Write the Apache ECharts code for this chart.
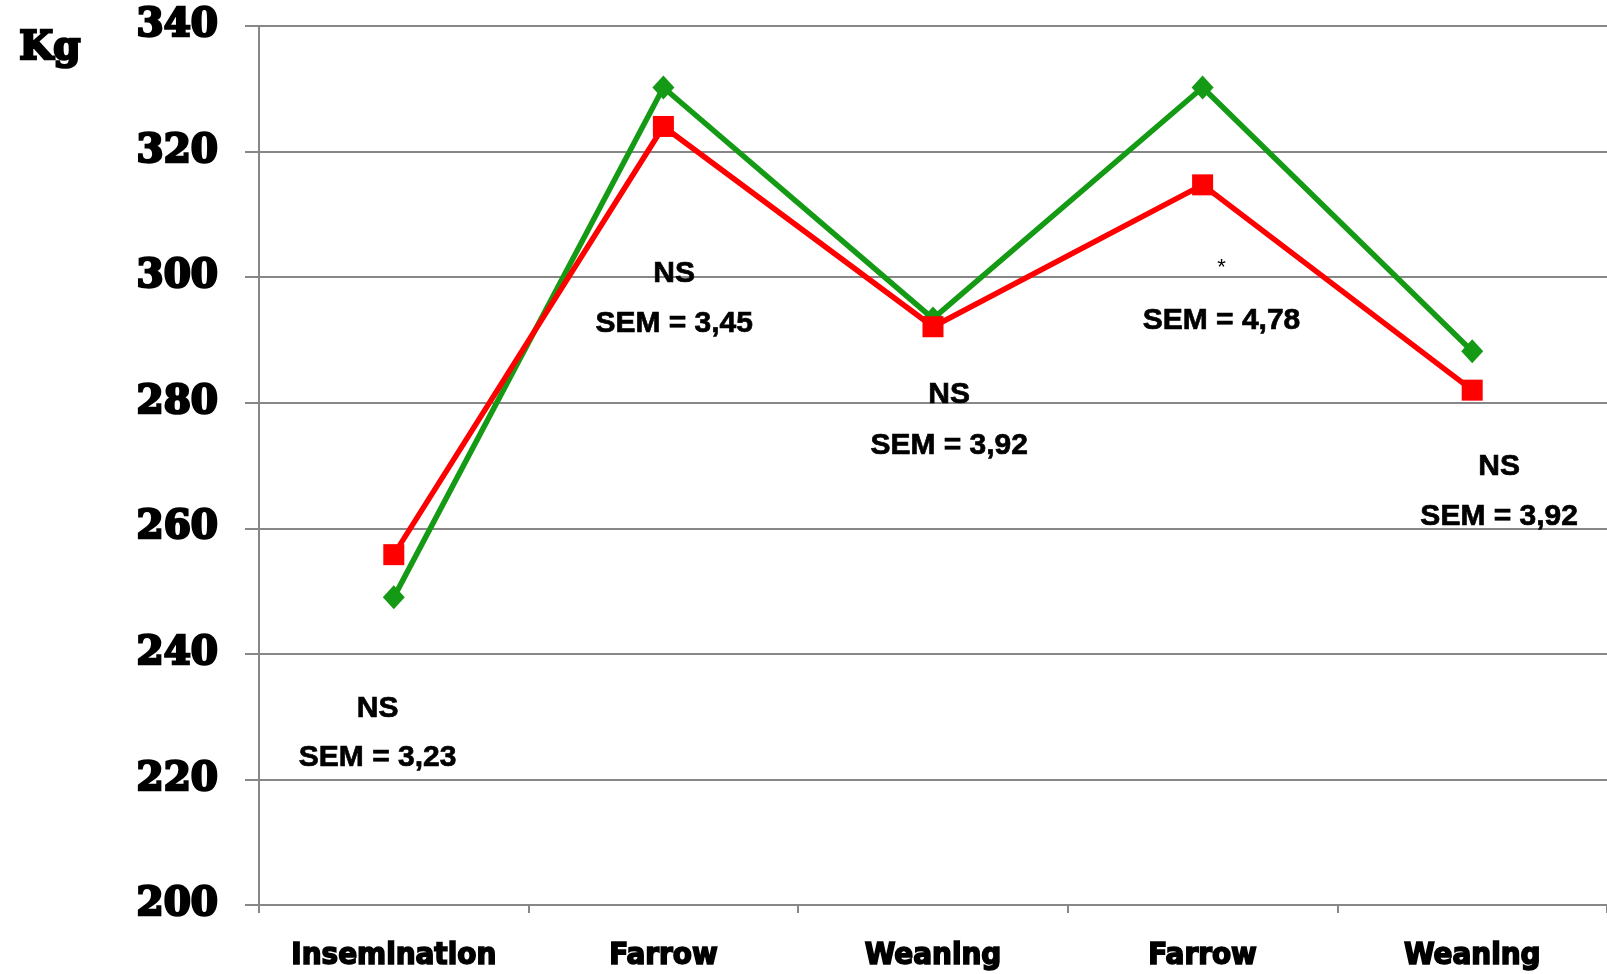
<!DOCTYPE html>
<html>
<head>
<meta charset="utf-8">
<title>Sow body weight</title>
<script src="https://cdn.jsdelivr.net/npm/echarts@6/dist/echarts.min.js"></script>
<style>
  html, body { margin: 0; padding: 0; background: #fff; }
  #chart { width: 1607px; height: 974px; }
</style>
</head>
<body>
<div id="chart"></div>
<script>
// Stages of the reproductive cycle
const categories = ['Insemination', 'Farrow', 'Weaning', 'Farrow', 'Weaning'];

// Body weight (kg) of the two groups
const greenValues = [249, 330.2, 293.4, 330.2, 288.2];
const redValues = [255.8, 324, 292.1, 314.7, 282];

// Y axis range
const yMin = 200;
const yMax = 340;
const yStep = 20;

// Statistical notes per stage: x position (category index units), kg level, text
const noteX = [-0.06, 1.04, 2.06, 3.07, 4.10];
const sigText = ['NS', 'NS', 'NS', '*', 'NS'];
const sigY = [231.3, 300.6, 281.2, 301.5, 269.8];
const semText = ['SEM = 3,23', 'SEM = 3,45', 'SEM = 3,92', 'SEM = 4,78', 'SEM = 3,92'];
const semY = [223.4, 292.6, 273.2, 293.1, 261.9];

const axisGray = '#878787';
const green = '#149a14';
const red = '#ff0000';

// One row per text note: [x, kg, text]
const noteRows = [];
noteX.forEach((x, i) => {
  noteRows.push([x, sigY[i], sigText[i]]);
  noteRows.push([x, semY[i], semText[i]]);
});

function renderNote(params, api) {
  const p = api.coord([api.value(0), api.value(1)]);
  const text = noteRows[params.dataIndex][2];
  const star = text === '*';
  return {
    type: 'text',
    x: p[0],
    y: p[1],
    style: {
      text: text,
      fill: '#000',
      stroke: star ? null : '#000',
      lineWidth: star ? 0 : 0.7,
      font: star ? 'normal 22px "Liberation Sans"' : 'bold 30px "Liberation Sans"',
      align: 'center',
      verticalAlign: 'middle'
    }
  };
}

const chart = echarts.init(document.getElementById('chart'), null, { renderer: 'canvas' });

chart.setOption({
  animation: false,
  backgroundColor: '#fff',
  grid: { left: 259, top: 26, width: 1360, height: 879, containLabel: false },
  graphic: [{
    type: 'text',
    left: 18,
    top: 28,
    style: {
      text: 'Kg',
      fill: '#000',
      font: 'bold 39px "DejaVu Serif"',
      stroke: '#000',
      lineWidth: 2.5
    }
  }],
  xAxis: [{
    type: 'category',
    data: categories,
    boundaryGap: true,
    axisLine: { show: true, lineStyle: { color: axisGray, width: 2 } },
    axisTick: { show: true, length: 8, lineStyle: { color: axisGray, width: 2 } },
    axisLabel: {
      margin: 35,
      color: '#000',
      fontFamily: 'DejaVu Sans Condensed',
      fontWeight: 'bold',
      fontSize: 31,
      textBorderColor: '#000',
      textBorderWidth: 1.6
    },
    splitLine: { show: false }
  }, {
    type: 'value',
    min: -0.5,
    max: 4.5,
    show: false
  }],
  yAxis: {
    type: 'value',
    min: yMin,
    max: yMax,
    interval: yStep,
    axisLine: { show: true, onZero: false, lineStyle: { color: axisGray, width: 2 } },
    axisTick: { show: true, length: 14, lineStyle: { color: axisGray, width: 2 } },
    axisLabel: {
      margin: 41,
      color: '#000',
      fontFamily: 'DejaVu Serif',
      fontWeight: 'bold',
      fontSize: 39,
      textBorderColor: '#000',
      textBorderWidth: 2.5
    },
    splitLine: { show: true, lineStyle: { color: axisGray, width: 2 } }
  },
  series: [
    {
      name: 'green',
      type: 'line',
      data: greenValues,
      symbol: 'diamond',
      symbolSize: [22, 24],
      lineStyle: { color: green, width: 5.5 },
      itemStyle: { color: green },
      z: 2
    },
    {
      name: 'red',
      type: 'line',
      data: redValues,
      symbol: 'rect',
      symbolSize: 21,
      lineStyle: { color: red, width: 5.5 },
      itemStyle: { color: red },
      z: 3
    },
    {
      name: 'notes',
      type: 'custom',
      xAxisIndex: 1,
      yAxisIndex: 0,
      data: noteRows.map(r => [r[0], r[1]]),
      renderItem: renderNote,
      silent: true,
      clip: false,
      z: 4
    }
  ]
});
</script>
</body>
</html>
